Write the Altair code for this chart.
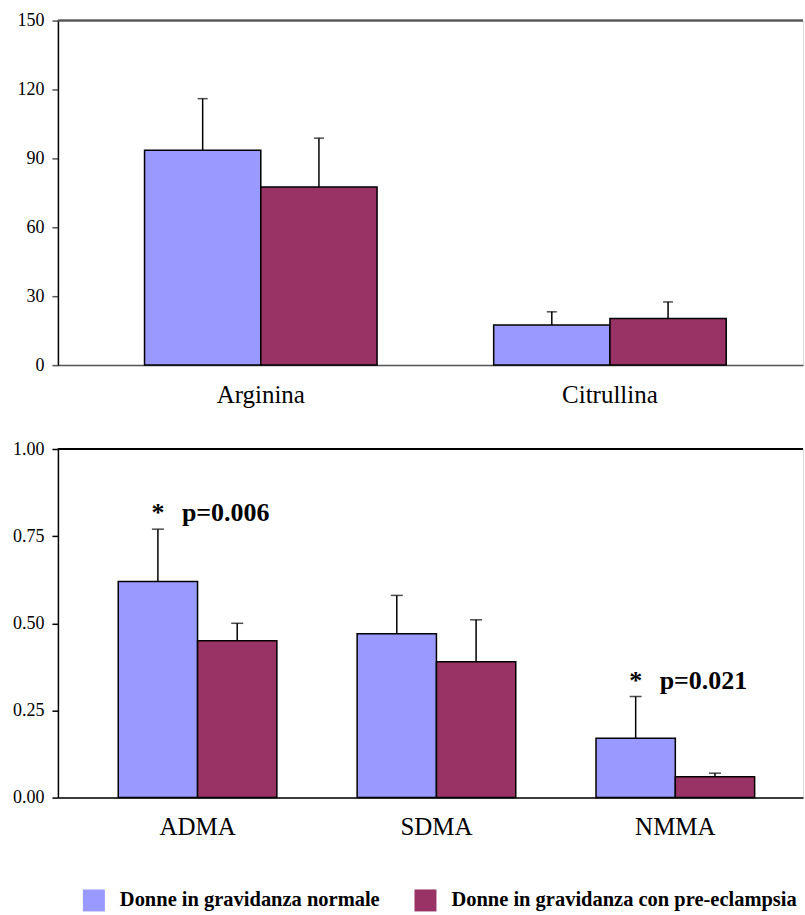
import altair as alt
import pandas as pd

FONT = "Liberation Serif"
BLUE = "#9999FF"
MAROON = "#993366"
groups = ["Donne in gravidanza normale", "Donne in gravidanza con pre-eclampsia"]

# top panel
top_cats = ["Arginina", "Citrullina"]
top_normal = [93.5, 17.5]
top_normal_sd = [22.5, 5.7]
top_pre = [77.5, 20.3]
top_pre_sd = [21.3, 7.2]

# bottom panel
bot_cats = ["ADMA", "SDMA", "NMMA"]
bot_normal = [0.62, 0.47, 0.17]
bot_normal_sd = [0.15, 0.11, 0.12]
bot_pre = [0.45, 0.39, 0.06]
bot_pre_sd = [0.05, 0.12, 0.01]
bot_pvalues = ["p=0.006", "", "p=0.021"]


def make_df(cats, m1, s1, m2, s2, pv=None):
    rows = []
    for i, c in enumerate(cats):
        rows.append({"cat": c, "grp": groups[0], "val": m1[i], "upper": m1[i] + s1[i],
                     "star": "*" if (pv and pv[i]) else "", "p": pv[i] if pv else ""})
        rows.append({"cat": c, "grp": groups[1], "val": m2[i], "upper": m2[i] + s2[i],
                     "star": "", "p": ""})
    return pd.DataFrame(rows)


def panel(df, cats, ymax, yvals, fmt, lineColor, xscale, tickFont, capSize, height):
    x = alt.X("cat:N", sort=cats, title=None, scale=xscale,
              axis=alt.Axis(labelAngle=0, labelFont=FONT, labelFontSize=25, ticks=False, tickSize=0,
                            labelPadding=17, domainColor=lineColor, domainWidth=1.5,
                            minExtent=40, maxExtent=40))
    xo = alt.XOffset("grp:N", sort=groups, scale=alt.Scale(paddingInner=0, paddingOuter=0))
    yscale = alt.Scale(domain=[0, ymax], nice=False, zero=True)
    yaxis = alt.Axis(values=yvals, format=fmt, grid=False, labelFont=FONT, labelFontSize=tickFont,
                     tickSize=6, tickColor=lineColor, tickWidth=1.5, labelPadding=8,
                     domainColor="black", domainWidth=1.5)
    base = alt.Chart(df).encode(x=x, xOffset=xo)
    bars = base.mark_bar(stroke="black", strokeWidth=1.5).encode(
        y=alt.Y("val:Q", title=None, scale=yscale, axis=yaxis),
        color=alt.Color("grp:N", sort=groups, scale=alt.Scale(domain=groups, range=[BLUE, MAROON]),
                        legend=alt.Legend(title=None, orient="none", legendX=25, legendY=870,
                                          direction="horizontal",
                                          symbolType="square", symbolSize=484, symbolStrokeWidth=0,
                                          symbolOpacity=1, labelFont=FONT, labelFontSize=20.5,
                                          labelFontWeight="bold", labelLimit=500, labelOffset=15,
                                          columnPadding=34, padding=0)))
    err = base.mark_rule(color="black", strokeWidth=1.5).encode(
        y=alt.Y("val:Q", title=None, scale=yscale, axis=yaxis), y2="upper:Q")
    caps = base.mark_tick(color="black", thickness=1.5, size=capSize).encode(
        y=alt.Y("upper:Q", title=None, scale=yscale, axis=yaxis))
    topline = alt.Chart(df).mark_rule(color=lineColor, strokeWidth=1.5).encode(
        y=alt.Y(datum=ymax, title=None, scale=yscale, axis=yaxis))
    layers = [bars, err, caps, topline]
    if (df["star"] != "").any():
        ann = alt.Chart(df).transform_filter(alt.datum.star != "").encode(
            x=x, xOffset=xo, y=alt.Y("upper:Q", title=None, scale=yscale, axis=yaxis))
        star = ann.mark_text(fontSize=26, fontWeight="bold", baseline="alphabetic",
                             dy=-8, color="black").encode(text="star:N")
        ptxt = ann.mark_text(fontSize=26, fontWeight="bold", baseline="alphabetic",
                             align="left", dx=24, dy=-8, color="black").encode(text="p:N")
        layers += [star, ptxt]
    return alt.layer(*layers).properties(width=746, height=height)


top_df = make_df(top_cats, top_normal, top_normal_sd, top_pre, top_pre_sd)
bot_df = make_df(bot_cats, bot_normal, bot_normal_sd, bot_pre, bot_pre_sd, bot_pvalues)

top = panel(top_df, top_cats, 150, [0, 30, 60, 90, 120, 150], "d", "#555555",
            alt.Scale(paddingInner=0.334, paddingOuter=0.234, align=0.53), 18, 10, 345)
bot = panel(bot_df, bot_cats, 1.0, [0, 0.25, 0.5, 0.75, 1.0], ".2f", "black",
            alt.Scale(paddingInner=0.336, paddingOuter=0.2275, align=0.555), 18, 12, 349)

chart = alt.vconcat(top, bot, spacing=31).resolve_scale(
    x="independent", xOffset="independent", y="independent"
).properties(
    padding={"left": 12, "top": 10, "right": 0, "bottom": 0}
).configure_view(stroke=None).configure(
    background="white", font=FONT
).configure_axis(
    labelFont=FONT, labelColor="black"
).configure_legend(
    labelFont=FONT, labelColor="black"
).configure_text(font=FONT)

chart.save("out.html", embed_options={"renderer": "svg", "actions": False})
